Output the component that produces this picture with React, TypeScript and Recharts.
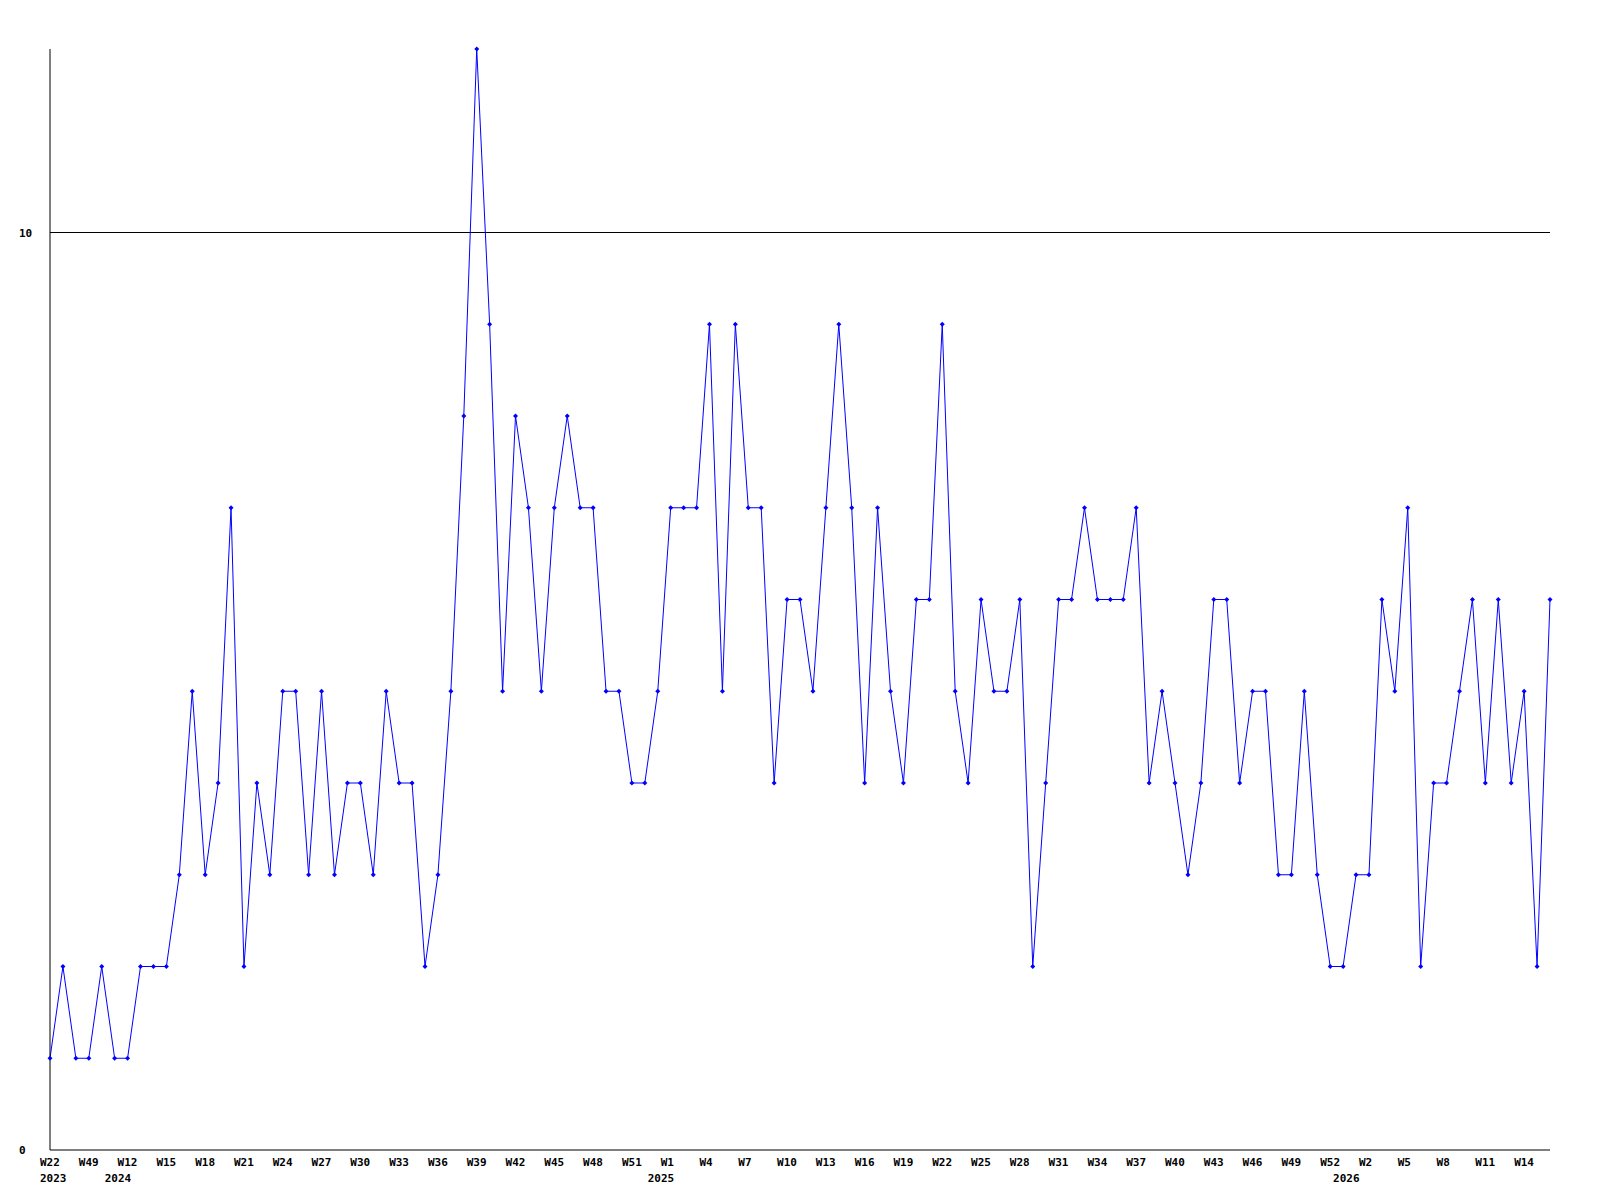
import { LineChart, Line, XAxis, YAxis, ReferenceLine } from "recharts";

const categories = [
  "2023-W22", "2023-W35", "2023-W42", "2023-W49", "2023-W51",
  "2024-W11", "2024-W12", "2024-W13", "2024-W14", "2024-W15", "2024-W16", "2024-W17", "2024-W18",
  "2024-W19", "2024-W20", "2024-W21", "2024-W22", "2024-W23", "2024-W24", "2024-W25", "2024-W26",
  "2024-W27", "2024-W28", "2024-W29", "2024-W30", "2024-W31", "2024-W32", "2024-W33", "2024-W34",
  "2024-W35", "2024-W36", "2024-W37", "2024-W38", "2024-W39", "2024-W40", "2024-W41", "2024-W42",
  "2024-W43", "2024-W44", "2024-W45", "2024-W46", "2024-W47", "2024-W48", "2024-W49", "2024-W50",
  "2024-W51", "2024-W52",
  "2025-W0", "2025-W1", "2025-W2", "2025-W3", "2025-W4", "2025-W5", "2025-W6", "2025-W7",
  "2025-W8", "2025-W9", "2025-W10", "2025-W11", "2025-W12", "2025-W13", "2025-W14", "2025-W15",
  "2025-W16", "2025-W17", "2025-W18", "2025-W19", "2025-W20", "2025-W21", "2025-W22", "2025-W23",
  "2025-W24", "2025-W25", "2025-W26", "2025-W27", "2025-W28", "2025-W29", "2025-W30", "2025-W31",
  "2025-W32", "2025-W33", "2025-W34", "2025-W35", "2025-W36", "2025-W37", "2025-W38", "2025-W39",
  "2025-W40", "2025-W41", "2025-W42", "2025-W43", "2025-W44", "2025-W45", "2025-W46", "2025-W47",
  "2025-W48", "2025-W49", "2025-W50", "2025-W51", "2025-W52",
  "2026-W0", "2026-W1", "2026-W2", "2026-W3", "2026-W4", "2026-W5", "2026-W6", "2026-W7",
  "2026-W8", "2026-W9", "2026-W10", "2026-W11", "2026-W12", "2026-W13", "2026-W14", "2026-W15",
  "2026-W16",
];

const counts = [
  1, 2, 1, 1, 2, 1, 1, 2, 2, 2, 3, 5, 3, 4, 7, 2, 4, 3, 5, 5,
  3, 5, 3, 4, 4, 3, 5, 4, 4, 2, 3, 5, 8, 12, 9, 5, 8, 7, 5, 7,
  8, 7, 7, 5, 5, 4, 4, 5, 7, 7, 7, 9, 5, 9, 7, 7, 4, 6, 6, 5,
  7, 9, 7, 4, 7, 5, 4, 6, 6, 9, 5, 4, 6, 5, 5, 6, 2, 4, 6, 6,
  7, 6, 6, 6, 7, 4, 5, 4, 3, 4, 6, 6, 4, 5, 5, 3, 3, 5, 3, 2,
  2, 3, 3, 6, 5, 7, 2, 4, 4, 5, 6, 4, 6, 4, 5, 2, 6,
];

const yTicks = [0, 10];

const data = categories.map((c, i) => ({ period: c, count: counts[i] }));

const labelFont = {
  fontFamily: "'DejaVu Sans Mono', monospace",
  fontWeight: "bold" as const,
  fontSize: 11,
  fill: "#000",
};

// labels are left-aligned a little before the point, like the original
function WeekTick(props: any) {
  const { x, y, index, payload } = props;
  const [year, week] = String(payload.value).split("-");
  const prev = index > 0 ? categories[index - 1].split("-")[0] : null;
  const showYear = prev !== year;
  return (
    <g>
      {index % 3 === 0 && (
        <text x={x - 10} y={y + 8} textAnchor="start" {...labelFont}>
          {week}
        </text>
      )}
      {showYear && (
        <text x={x - 10} y={y + 24} textAnchor="start" {...labelFont}>
          {year}
        </text>
      )}
    </g>
  );
}

function CountTick(props: any) {
  const { y, payload } = props;
  return (
    <text x={19} y={y + 4} textAnchor="start" {...labelFont}>
      {payload.value}
    </text>
  );
}

function Marker(props: any) {
  const { cx, cy } = props;
  if (cx == null || cy == null) return null;
  return (
    <path
      d={`M${cx - 2.5},${cy} L${cx},${cy - 2.5} L${cx + 2.5},${cy} L${cx},${cy + 2.5} Z`}
      fill="#0000ff"
      stroke="none"
    />
  );
}

export default function App() {
  return (
    <div style={{ position: "absolute", left: 0, top: 0, width: 1600, height: 1200, background: "#fff" }}>
      <LineChart width={1600} height={1200} data={data} margin={{ top: 49, right: 50, bottom: 0, left: 0 }}>
        <XAxis
          dataKey="period"
          interval={0}
          tickLine={false}
          axisLine={{ stroke: "#000" }}
          height={50}
          tick={(p: any) => <WeekTick {...p} />}
        />
        <YAxis
          domain={[0, 12]}
          ticks={yTicks}
          width={50}
          tickLine={false}
          axisLine={{ stroke: "#000" }}
          tick={(p: any) => <CountTick {...p} />}
        />
        <ReferenceLine y={10} stroke="#000" />
        <Line
          type="linear"
          dataKey="count"
          stroke="#0000ff"
          strokeWidth={1}
          dot={(p: any) => <Marker key={p.index} {...p} />}
          activeDot={false}
          isAnimationActive={false}
        />
      </LineChart>
    </div>
  );
}
